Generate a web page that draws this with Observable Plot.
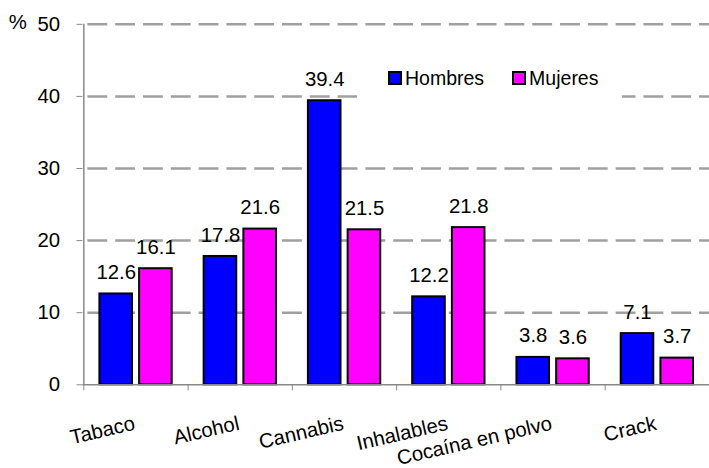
<!DOCTYPE html>
<html>
<head>
<meta charset="utf-8">
<script src="https://cdn.jsdelivr.net/npm/d3@7"></script>
<script src="https://cdn.jsdelivr.net/npm/@observablehq/plot@0.6"></script>
<style>
  html, body { margin: 0; padding: 0; overflow: hidden; background: #fff; }
  #wrap { position: relative; width: 709px; height: 468px; overflow: hidden; }
  #legend { position: absolute; left: 357px; top: 57px; width: 265px; height: 42px; background: #fff;
            display: flex; align-items: center; padding-left: 32px; box-sizing: border-box; }
  #legend > div { flex: none; }
  #legend .lg-swatches { font: 19.5px Arial, "Liberation Sans", sans-serif; color: #000; margin: 0; min-height: 0; flex-wrap: nowrap; }
  #legend .lg-swatch { margin-right: 29px; }
  #legend .lg-swatch:last-child { margin-right: 0; }
  #legend .lg-swatch svg { margin-right: 4px; overflow: visible; }
  #legend .lg-swatch svg rect { stroke: #000; stroke-width: 2px; }
</style>
</head>
<body>
<div id="wrap"><div id="chart"></div><div id="legend"></div></div>
<script>
const categories = ["Tabaco", "Alcohol", "Cannabis", "Inhalables", "Cocaína en polvo", "Crack"];
const hombres = [12.6, 17.8, 39.4, 12.2, 3.8, 7.1];
const mujeres = [16.1, 21.6, 21.5, 21.8, 3.6, 3.7];
const series = ["Hombres", "Mujeres"];
const colors = ["#0000FF", "#FF00FF"];
const yTicks = [0, 10, 20, 30, 40, 50];

const W = 714, ML = 83, MR = 0;
const bw = (W - ML - MR) / categories.length;
const barW = 33, gap = 7;
const outer = (bw - 2 * barW - gap) / 2;
const axisGray = "#888888";
const font = 'Arial, "Liberation Sans", sans-serif';

const chart = Plot.plot({
  width: W,
  height: 468,
  marginLeft: ML,
  marginRight: MR,
  marginTop: 24,
  marginBottom: 81,
  style: { fontSize: "20.5px", fontFamily: font, background: "#fff", color: "#000", overflow: "visible" },
  x: { type: "band", domain: categories, padding: 0 },
  y: { domain: [0, 50] },
  marks: [
    Plot.ruleY(yTicks.slice(1), { stroke: "#a0a0a0", strokeWidth: 2.5, strokeDasharray: "20,8", strokeDashoffset: 23 }),
    Plot.barY(categories, { x: d => d, y: (d, i) => hombres[i], fill: colors[0], stroke: "#000", strokeWidth: 2,
      insetLeft: outer, insetRight: outer + barW + gap }),
    Plot.barY(categories, { x: d => d, y: (d, i) => mujeres[i], fill: colors[1], stroke: "#000", strokeWidth: 2,
      insetLeft: outer + barW + gap, insetRight: outer }),
    Plot.ruleY([0], { stroke: axisGray, strokeWidth: 1.5 }),
    Plot.ruleX([categories[0]], { dx: -bw / 2, stroke: axisGray, strokeWidth: 1.5 }),
    Plot.axisY({ ticks: yTicks, tickSize: 6, tickPadding: 17, stroke: axisGray, fill: "#000", label: null, tickFormat: d => String(d) }),
    Plot.axisX({ tickSize: 6, tickFormat: () => "", dx: -bw / 2, stroke: axisGray, label: null }),
    Plot.text(categories, { x: d => d, y: (d, i) => hombres[i], text: (d, i) => hombres[i].toFixed(1),
      dx: -(bw / 2 - outer - barW / 2), dy: -15, lineAnchor: "bottom", fill: "#000" }),
    Plot.text(categories, { x: d => d, y: (d, i) => mujeres[i], text: (d, i) => mujeres[i].toFixed(1),
      dx: (bw / 2 - outer - barW / 2), dy: -15, lineAnchor: "bottom", fill: "#000" }),
    Plot.text(categories, { x: d => d, frameAnchor: "bottom", text: d => d, rotate: -13, textAnchor: "end",
      lineAnchor: "bottom", dy: 45, fill: "#000" }),
    Plot.text(["%"], { frameAnchor: "top-left", text: d => d, dx: -65.5, dy: 4.5, lineAnchor: "bottom", textAnchor: "middle", fill: "#000" })
  ]
});
document.getElementById("chart").appendChild(chart);

const legend = Plot.legend({ color: { type: "ordinal", domain: series, range: colors }, swatchSize: 12, className: "lg" });
document.getElementById("legend").appendChild(legend);
</script>
</body>
</html>
